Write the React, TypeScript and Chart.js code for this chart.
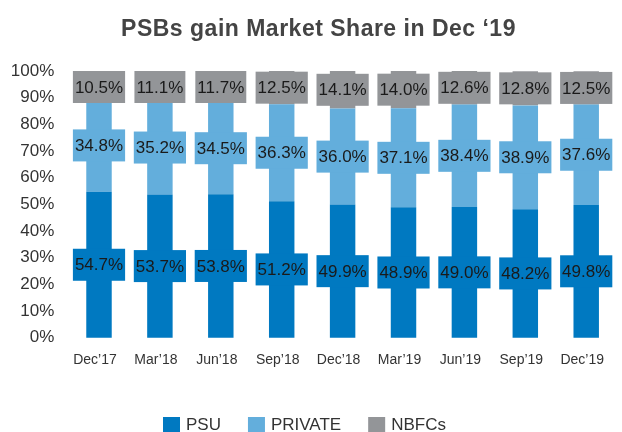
import React, { useEffect, useRef } from "react";
import { Chart, registerables } from "chart.js";

Chart.register(...registerables);

const titleText = "PSBs gain Market Share in Dec ‘19";
const categories = ["Dec’17", "Mar’18", "Jun’18", "Sep’18", "Dec’18", "Mar’19", "Jun’19", "Sep’19", "Dec’19"];
const psuValues = [54.7, 53.7, 53.8, 51.2, 49.9, 48.9, 49.0, 48.2, 49.8];
const privateValues = [34.8, 35.2, 34.5, 36.3, 36.0, 37.1, 38.4, 38.9, 37.6];
const nbfcValues = [10.5, 11.1, 11.7, 12.5, 14.1, 14.0, 12.6, 12.8, 12.5];
const seriesNames = ["PSU", "PRIVATE", "NBFCs"];
const seriesColors = ["#0079C1", "#63AEDC", "#939598"];

const FONT = '"Liberation Sans", Arial, Helvetica, sans-serif';

const segLabels = {
  id: "segLabels",
  afterDatasetsDraw(chart: any) {
    const ctx = chart.ctx;
    ctx.save();
    ctx.font = `17px ${FONT}`;
    ctx.textAlign = "center";
    ctx.textBaseline = "middle";
    chart.data.datasets.forEach((ds: any, di: number) => {
      const meta = chart.getDatasetMeta(di);
      meta.data.forEach((bar: any, i: number) => {
        const p = bar.getProps(["x", "y", "base"], true);
        const top = Math.min(p.y, p.base);
        const bottom = Math.max(p.y, p.base);
        const text = Number(ds.data[i]).toFixed(1) + "%";
        const w = ctx.measureText(text).width + 4;
        const h = 32;
        let by = (top + bottom) / 2 - h / 2;
        if (by < top) by = top;
        ctx.fillStyle = ds.backgroundColor;
        ctx.fillRect(p.x - w / 2, by, w, h);
        ctx.fillStyle = "#1a1a1a";
        ctx.fillText(text, p.x, by + h / 2 + 1);
      });
    });
    ctx.restore();
  },
};

const titleAndLegend = {
  id: "titleAndLegend",
  afterDraw(chart: any) {
    const ctx = chart.ctx;
    ctx.save();
    ctx.font = `bold 23px ${FONT}`;
    (ctx as any).letterSpacing = "0.5px";
    ctx.fillStyle = "#444444";
    ctx.textAlign = "center";
    ctx.textBaseline = "alphabetic";
    ctx.fillText(titleText, 318.5, 35.5);
    (ctx as any).letterSpacing = "0px";

    ctx.font = `17px ${FONT}`;
    ctx.textAlign = "left";
    ctx.textBaseline = "middle";
    let x = 163;
    chart.data.datasets.forEach((ds: any) => {
      ctx.fillStyle = ds.backgroundColor;
      ctx.fillRect(x, 417, 17, 15);
      ctx.fillStyle = "#333333";
      ctx.fillText(ds.label, x + 23, 425);
      x += 23 + ctx.measureText(ds.label).width + 27;
    });
    ctx.restore();
  },
};

export default function App() {
  const ref = useRef<HTMLCanvasElement>(null);
  useEffect(() => {
    document.body.style.margin = "0";
    const chart = new Chart(ref.current as HTMLCanvasElement, {
      type: "bar",
      data: {
        labels: categories,
        datasets: [psuValues, privateValues, nbfcValues].map((d, i) => ({
          label: seriesNames[i],
          data: d,
          backgroundColor: seriesColors[i],
          borderWidth: 0,
          clip: false as any,
        })),
      },
      options: {
        animation: false,
        responsive: false,
        layout: { padding: { top: 71, right: 25, bottom: 63.5, left: 0 } },
        datasets: { bar: { barPercentage: 0.418, categoryPercentage: 1 } },
        plugins: { legend: { display: false }, title: { display: false }, tooltip: { enabled: false } },
        scales: {
          x: {
            stacked: true,
            offset: false,
            grid: { display: false, drawTicks: false },
            border: { display: false },
            ticks: { padding: 14, labelOffset: -4, color: "#333333", font: { family: FONT, size: 14 }, maxRotation: 0, autoSkip: false },
            afterFit: (s: any) => { s.height = 30.8; },
          },
          y: {
            stacked: true,
            min: 0,
            max: 100,
            grid: { display: false, drawTicks: false },
            border: { display: false },
            ticks: { stepSize: 10, padding: 44.7, color: "#333333", font: { family: FONT, size: 17 }, callback: (v: any) => v + "%" },
            afterFit: (s: any) => { s.width = 99; },
          },
        },
      },
      plugins: [segLabels, titleAndLegend],
    });
    return () => chart.destroy();
  }, []);
  return (
    <div style={{ width: 622, height: 432 }}>
      <canvas ref={ref} width={622} height={432} />
    </div>
  );
}
